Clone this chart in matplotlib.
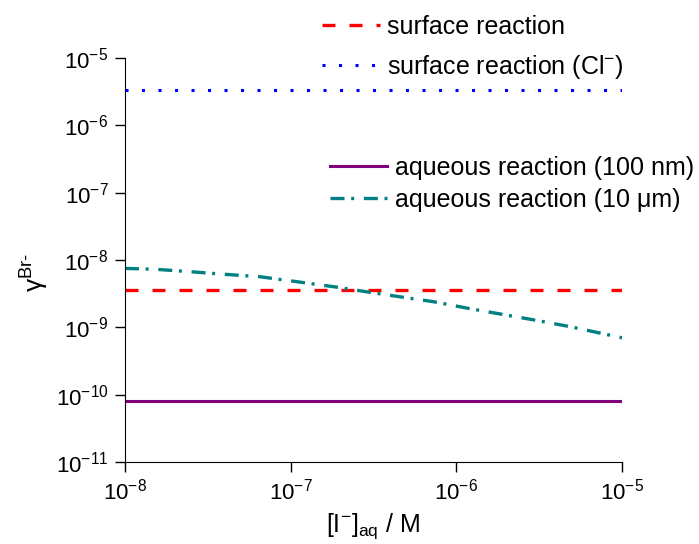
import numpy as np
import matplotlib
matplotlib.use('Agg')
import matplotlib.pyplot as plt

plt.rcParams['font.family'] = ['Liberation Sans', 'DejaVu Sans']
plt.rcParams['mathtext.fontset'] = 'custom'
plt.rcParams['mathtext.rm'] = 'Liberation Sans'
plt.rcParams['mathtext.it'] = 'Liberation Sans:italic'
plt.rcParams['mathtext.default'] = 'regular'

# === DATA ===
x_range = [1e-8, 1e-5]
surface = [3.6e-9, 3.6e-9]
surface_cl = [3.35e-6, 3.35e-6]
aqueous_100nm = [8.1e-11, 8.1e-11]

x_10um = [1e-8, 1.5e-8, 2.5e-8, 3.75e-8, 6.5e-8, 1.1e-7, 1.9e-7, 3.3e-7,
          7.3e-7, 1.2e-6, 3.1e-6, 4.9e-6, 1e-5]
aqueous_10um = [7.5e-9, 7.3e-9, 6.7e-9, 6.2e-9, 5.65e-9, 4.75e-9, 3.95e-9, 3.2e-9,
                2.4e-9, 1.9e-9, 1.26e-9, 1.02e-9, 7.0e-10]

y_ticks = [1e-11, 1e-10, 1e-9, 1e-8, 1e-7, 1e-6, 1e-5]
x_ticks = [1e-8, 1e-7, 1e-6, 1e-5]

fig = plt.figure(figsize=(6.99, 5.44), dpi=100)
ax = fig.add_axes([0.1788, 0.1507, 0.711, 0.7427])

l_surf, = ax.plot(x_range, surface, color='#ff0000', lw=2.4, dashes=(3.9, 4.2),
                  label='surface reaction')
l_cl, = ax.plot(x_range, surface_cl, color='#0000ff', lw=2.2, dashes=(1.0, 4.4),
                label='surface reaction (Cl$^{-}$)')
l_100, = ax.plot(x_range, aqueous_100nm, color='#800080', lw=2.2,
                 label='aqueous reaction (100 nm)')
l_10, = ax.plot(x_10um, aqueous_10um, color='#008080', lw=2.4,
                dashes=(4.2, 2.0, 0.9, 2.9), label='aqueous reaction (10 μm)')

ax.set_xscale('log')
ax.set_yscale('log')
ax.set_xlim(1e-8, 1e-5)
ax.set_ylim(1e-11, 1e-5)
ax.set_xticks(x_ticks)
ax.set_yticks(y_ticks)
ax.minorticks_off()
ax.tick_params(axis='both', direction='out', length=7, width=1, labelsize=16, pad=5)

for s in ['top', 'right']:
    ax.spines[s].set_visible(False)

ax.set_xlabel('[I$^{-}$]$_{aq}$ / M', fontsize=18)
ax.xaxis.set_label_coords(0.5, -0.122)
ax.set_ylabel(r'$\gamma^{\text{Br-}}$', fontsize=19)
ax.yaxis.set_label_coords(-0.148, 0.47)

leg1 = ax.legend(handles=[l_surf, l_cl], loc='upper left',
                 bbox_to_anchor=(0.461, 0.972), bbox_transform=fig.transFigure,
                 frameon=False, fontsize=18, handlelength=2.3, handletextpad=0.3,
                 labelspacing=0.56, borderpad=0, borderaxespad=0)
ax.add_artist(leg1)
ax.legend(handles=[l_100, l_10], loc='upper left',
          bbox_to_anchor=(0.472, 0.714), bbox_transform=fig.transFigure,
          frameon=False, fontsize=18, handlelength=2.28, handletextpad=0.32,
          labelspacing=0.32, borderpad=0, borderaxespad=0)

fig.savefig('out.png', dpi=100)
